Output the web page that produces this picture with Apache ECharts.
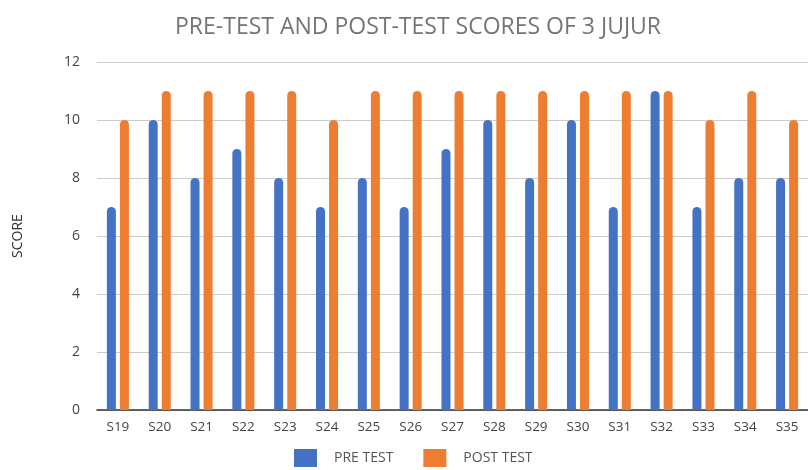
<!DOCTYPE html>
<html><head><meta charset="utf-8">
<script src="https://cdn.jsdelivr.net/npm/echarts@6/dist/echarts.min.js"></script>
<style>html,body{margin:0;padding:0;background:#fff}#c{width:808px;height:470px}</style>
</head><body><div id="c"></div>
<script>
const categories = ['S19','S20','S21','S22','S23','S24','S25','S26','S27','S28','S29','S30','S31','S32','S33','S34','S35'];
const preTest  = [7,10,8,9,8,7,8,7,9,10,8,10,7,11,7,8,8];
const postTest = [10,11,11,11,11,10,11,11,11,11,11,11,11,11,10,11,10];
const yTicks = {min:0, max:12, interval:2};

const chart = echarts.init(document.getElementById('c'));
chart.setOption({
  animation:false,
  textStyle:{fontFamily:'Open Sans'},
  title:{text:'PRE-TEST AND POST-TEST SCORES OF 3 JUJUR', left:170, top:11,
    textStyle:{fontFamily:'Open Sans', fontWeight:'normal', fontSize:23, color:'#757575'}},
  legend:{bottom:-2, left:289, itemWidth:23, itemHeight:18, itemGap:30, icon:'rect',
    textStyle:{fontFamily:'Open Sans', fontSize:14, color:'#555', padding:[0,0,0,12]}},
  grid:{left:97, right:-6, top:62, bottom:60, containLabel:false},
  xAxis:{type:'category', data:categories,
    axisLine:{lineStyle:{color:'#333', width:1.5}}, axisTick:{show:false},
    axisLabel:{color:'#444', fontSize:13.5, margin:10}},
  yAxis:{type:'value', min:yTicks.min, max:yTicks.max, interval:yTicks.interval,
    name:'SCORE', nameLocation:'middle', nameGap:72, nameRotate:90,
    nameTextStyle:{color:'#333', fontSize:14},
    axisLine:{show:false}, axisTick:{show:false},
    axisLabel:{color:'#444', fontSize:14, margin:17},
    splitLine:{lineStyle:{color:'#ccc', width:1}}},
  series:[
    {name:'PRE TEST', type:'bar', data:preTest, barWidth:9, barGap:'45%',
      itemStyle:{color:'#4472C4', borderRadius:[4.5,4.5,0,0]}},
    {name:'POST TEST', type:'bar', data:postTest, barWidth:9, barGap:'45%',
      itemStyle:{color:'#ED7D31', borderRadius:[4.5,4.5,0,0]}}
  ]
});
</script></body></html>
